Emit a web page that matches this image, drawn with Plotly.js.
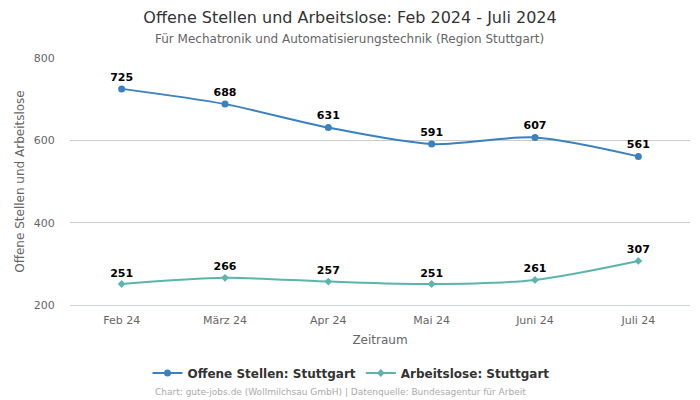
<!DOCTYPE html>
<html>
<head>
<meta charset="utf-8">
<script src="https://cdn.plot.ly/plotly-3.0.1.min.js"></script>
<style>html,body{margin:0;padding:0;background:#fff;}#chart{width:700px;height:400px;}</style>
</head>
<body>
<div id="chart"></div>
<script>
const categories = ["Feb 24", "März 24", "Apr 24", "Mai 24", "Juni 24", "Juli 24"];
const offeneStellen = [725, 688, 631, 591, 607, 561];
const arbeitslose = [251, 266, 257, 251, 261, 307];
const seriesNames = ["Offene Stellen: Stuttgart", "Arbeitslose: Stuttgart"];
const yTicks = [200, 400, 600, 800];

const font = "DejaVu Sans, sans-serif";
const traces = [
  {
    x: categories, y: offeneStellen, name: seriesNames[0],
    type: "scatter", mode: "lines+markers+text",
    line: {color: "#3a81c0", width: 2, shape: "spline", smoothing: 0.8},
    marker: {color: "#3a81c0", size: 7, symbol: "circle"},
    text: offeneStellen.map(String), textposition: "top center",
    textfont: {family: font, size: 11, color: "#000", weight: "bold"},
    cliponaxis: false, hoverinfo: "x+y"
  },
  {
    x: categories, y: arbeitslose, name: seriesNames[1],
    type: "scatter", mode: "lines+markers+text",
    line: {color: "#5bb5ad", width: 2, shape: "spline", smoothing: 0.8},
    marker: {color: "#5bb5ad", size: 6, symbol: "diamond"},
    text: arbeitslose.map(String), textposition: "top center",
    textfont: {family: font, size: 11, color: "#000", weight: "bold"},
    cliponaxis: false, hoverinfo: "x+y"
  }
];

const layout = {
  width: 700, height: 400,
  margin: {l: 70, r: 10, t: 58, b: 95},
  paper_bgcolor: "#fff", plot_bgcolor: "#fff",
  font: {family: font, color: "#555"},
  title: {
    text: "Offene Stellen und Arbeitslose: Feb 2024 - Juli 2024",
    font: {family: font, size: 16, color: "#333"},
    x: 0.5, xanchor: "center", xref: "container",
    yref: "container", y: 1 - 17/400, yanchor: "middle"
  },
  xaxis: {
    type: "category", range: [-0.5, 5.5], automargin: false,
    title: {text: "Zeitraum", font: {family: font, size: 12, color: "#666"}, standoff: 9},
    tickfont: {family: font, size: 11, color: "#666"},
    showgrid: false, zeroline: false,
    showline: true, linecolor: "#ccd6e0", linewidth: 1,
    ticks: "outside", ticklen: 5, tickcolor: "rgba(0,0,0,0)"
  },
  yaxis: {
    range: [200, 800], tickvals: yTicks, automargin: false,
    title: {text: "Offene Stellen und Arbeitslose", font: {family: font, size: 12, color: "#666"}, standoff: 6},
    tickfont: {family: font, size: 11, color: "#666"},
    gridcolor: "#cccccc", gridwidth: 1, zeroline: false,
    showline: false, ticks: "outside", ticklen: 12, tickcolor: "rgba(0,0,0,0)"
  },
  showlegend: true,
  legend: {
    orientation: "h", x: 351/700, xref: "container", xanchor: "center",
    yref: "container", y: 27/400, yanchor: "middle",
    font: {family: font, size: 12, color: "#333", weight: "bold"},
    itemwidth: 30
  },
  annotations: [
    {
      text: "Für Mechatronik und Automatisierungstechnik (Region Stuttgart)",
      xref: "paper", yref: "paper", x: (349 - 70)/620, y: 1 + (58 - 39)/247, xanchor: "center", yanchor: "middle",
      showarrow: false, font: {family: font, size: 12, color: "#666"}
    },
    {
      text: "Chart: gute-jobs.de (Wollmilchsau GmbH) | Datenquelle: Bundesagentur für Arbeit",
      xref: "paper", yref: "paper", x: (340 - 70)/620, y: -(392 - 305)/247, xanchor: "center", yanchor: "middle",
      showarrow: false, font: {family: font, size: 9, color: "#aaa"}
    }
  ]
};

Plotly.newPlot("chart", traces, layout, {displayModeBar: false, staticPlot: true});
</script>
</body>
</html>
